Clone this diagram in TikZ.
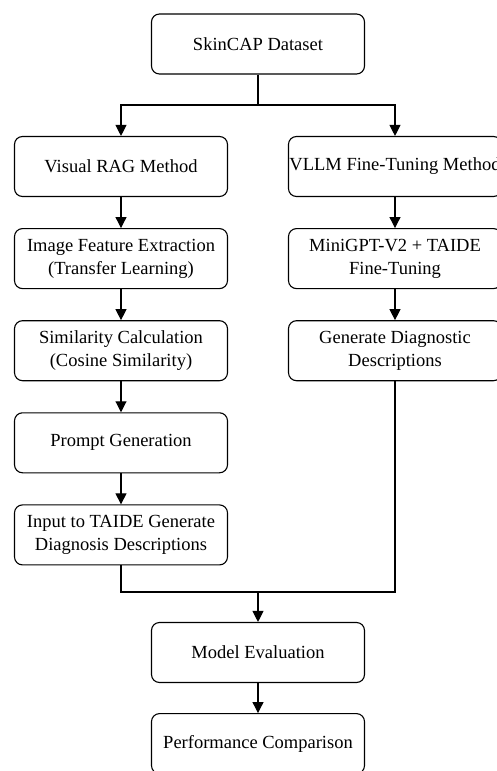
\documentclass[tikz,border=0pt]{standalone}
\usepackage{fontspec}
\setmainfont{Liberation Serif}
\usetikzlibrary{positioning,arrows.meta}

\begin{document}
\begin{tikzpicture}[x=1pt,y=1pt,
  box/.style={draw, line width=1.1pt, rounded corners=8pt, minimum width=213pt,
    minimum height=60pt, inner xsep=1pt, align=center,
    font=\fontsize{18.5}{23}\selectfont},
  arr/.style={line width=1.1pt, -{Triangle[length=11pt,width=11pt]}},
  node distance=31pt]
\useasboundingbox (0,0) rectangle (496,-771);
\node[box] (dataset) at (258,-44) {SkinCAP Dataset};
\node[box] (rag) at (121,-166.5) {Visual RAG Method};
\node[box, below=of rag] (feature) {Image Feature Extraction\\(Transfer Learning)};
\node[box, below=of feature] (simil) {Similarity Calculation\\(Cosine Similarity)};
\node[box, below=of simil] (prompt) {Prompt Generation};
\node[box, below=of prompt] (input) {Input to TAIDE Generate\\Diagnosis Descriptions};
\node[box] (vllm) at (395,-166.5) {VLLM Fine-Tuning Method};
\node[box, below=of vllm] (minigpt) {MiniGPT-V2 + TAIDE\\Fine-Tuning};
\node[box, below=of minigpt] (gendesc) {Generate Diagnostic\\Descriptions};
\node[box] (eval) at (258,-652.5) {Model Evaluation};
\node[box, below=30pt of eval] (perf) {Performance Comparison};
\coordinate (split) at (258,-105);
\coordinate (merge) at (258,-592);
\draw[line width=1.1pt] (dataset) -- (split);
\draw[arr] (split) -| (rag);
\draw[arr] (split) -| (vllm);
\draw[arr] (rag) -- (feature);
\draw[arr] (feature) -- (simil);
\draw[arr] (simil) -- (prompt);
\draw[arr] (prompt) -- (input);
\draw[arr] (vllm) -- (minigpt);
\draw[arr] (minigpt) -- (gendesc);
\draw[line width=1.1pt] (input) |- (merge);
\draw[line width=1.1pt] (gendesc) |- (merge);
\draw[arr] (merge) -- (eval);
\draw[arr] (eval) -- (perf);
\end{tikzpicture}
\end{document}
